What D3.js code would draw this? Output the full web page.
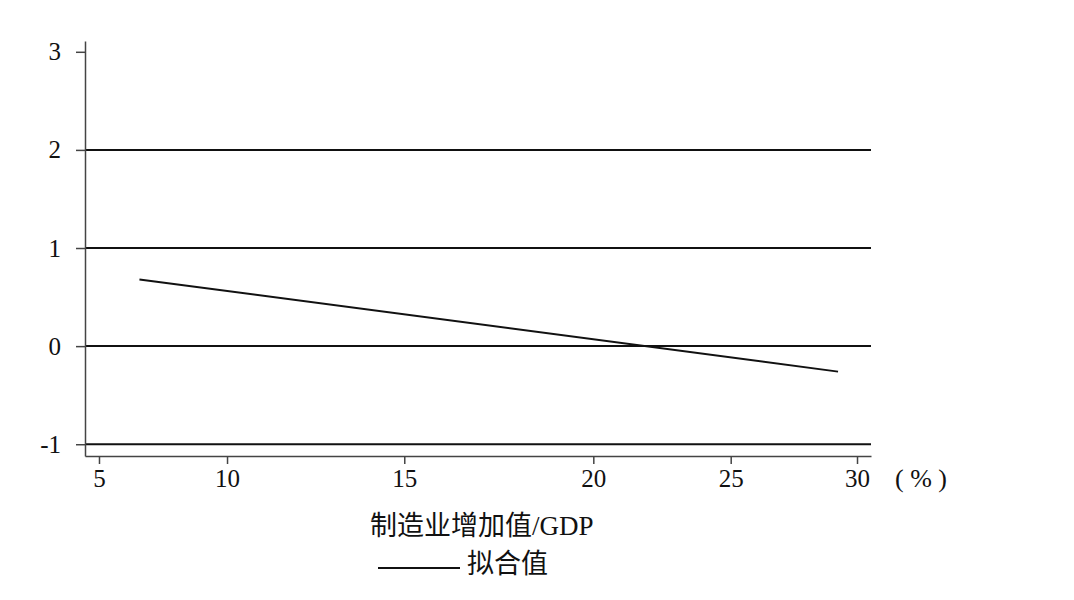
<!DOCTYPE html>
<html>
<head>
<meta charset="utf-8">
<script src="https://cdn.jsdelivr.net/npm/d3@7"></script>
<style>
    body { margin: 0; background: #fff; }
    .axis .tick text { font-family: "Liberation Serif", "Times New Roman", serif; font-size: 25px; fill: #111; }
    .axis path, .axis line { stroke: #444; stroke-width: 1.5; }
    .grid-line { stroke: #111; stroke-width: 2; }
    .fit-line { fill: none; stroke: #111; stroke-width: 2; }
    .legend-text { font-family: "Liberation Serif", "Noto Sans CJK SC", serif; font-size: 27px; fill: #111; }
    .unit-text { font-family: "Liberation Serif", "Times New Roman", serif; font-size: 26px; fill: #111; }
</style>
</head>
<body>
<div id="chart"></div>
<script>
// Tick values on both axes
const xTicks = [5, 10, 15, 20, 25, 30];
const yTicks = [-1, 0, 1, 2, 3];
// Horizontal reference lines
const gridValues = [-1, 0, 1, 2];
// Fitted line: manufacturing value added / GDP (%) vs fitted value
const fitX = [6.58, 29.25];
const fitY = [0.68, -0.26];
// Texts
const xUnit = '(\u00a0%\u00a0)';
const xTitle = '制造业增加值/GDP';
const legendLabel = '拟合值';

class FitChart {
    constructor(_config) {
        this.config = {
            parentElement: _config.parentElement,
            containerWidth: 1074,
            containerHeight: 600,
            margin: {top: 41, right: 203, bottom: 144, left: 85}
        }
        this.data = fitX.map((x, i) => ({x: x, y: fitY[i]}));
        this.initVis();
    }

    initVis() {
        let vis = this;

        vis.width = vis.config.containerWidth - vis.config.margin.left - vis.config.margin.right;
        vis.height = vis.config.containerHeight - vis.config.margin.top - vis.config.margin.bottom;

        vis.svg = d3.select(vis.config.parentElement).append('svg')
            .attr('width', vis.config.containerWidth)
            .attr('height', vis.config.containerHeight);

        vis.chart = vis.svg.append('g')
            .attr('transform', `translate(${vis.config.margin.left},${vis.config.margin.top})`);

        // The printed x axis is not evenly spaced, so use a piecewise scale
        vis.xScale = d3.scaleLinear()
            .domain([4.45, 5, 10, 15, 20, 25, 30, 30.56])
            .range([0, 0.0178, 0.1807, 0.4062, 0.6467, 0.8215, 0.9822, 1].map(f => f * vis.width));

        vis.yScale = d3.scaleLinear()
            .domain([-1.12, 3.11])
            .range([vis.height, 0]);

        vis.xAxis = d3.axisBottom(vis.xScale)
            .tickValues(xTicks)
            .tickSize(8)
            .tickSizeOuter(0)
            .tickPadding(5);

        // plain hyphen for negatives, as printed
        vis.yAxis = d3.axisLeft(vis.yScale)
            .tickValues(yTicks)
            .tickSize(9)
            .tickSizeOuter(0)
            .tickPadding(15)
            .tickFormat(d => String(d));

        vis.renderVis();
    }

    renderVis() {
        let vis = this;

        // Horizontal lines
        vis.chart.selectAll('.grid-line')
            .data(gridValues)
            .join('line')
            .attr('class', 'grid-line')
            .attr('x1', 0)
            .attr('x2', vis.width)
            .attr('y1', d => vis.yScale(d))
            .attr('y2', d => vis.yScale(d));

        vis.chart.append('g')
            .attr('class', 'axis x-axis')
            .attr('transform', `translate(0,${vis.height})`)
            .call(vis.xAxis);

        vis.chart.append('g')
            .attr('class', 'axis y-axis')
            .call(vis.yAxis)
            .call(g => g.selectAll('.tick text').attr('dy', '0.32em'));

        // Fitted line
        const line = d3.line()
            .x(d => vis.xScale(d.x))
            .y(d => vis.yScale(d.y));

        vis.chart.append('path')
            .datum(vis.data)
            .attr('class', 'fit-line')
            .attr('d', line);

        // Unit next to the last x tick
        vis.chart.append('text')
            .attr('class', 'unit-text')
            .attr('x', vis.xScale(30) + 38)
            .attr('y', vis.height + 31)
            .text(xUnit);

        // Title + legend below the chart
        vis.svg.append('text')
            .attr('class', 'legend-text')
            .attr('x', 370)
            .attr('y', 535)
            .text(xTitle);

        vis.svg.append('line')
            .attr('x1', 378)
            .attr('x2', 460)
            .attr('y1', 568)
            .attr('y2', 568)
            .attr('stroke', '#111')
            .attr('stroke-width', 2);

        vis.svg.append('text')
            .attr('class', 'legend-text')
            .attr('x', 467)
            .attr('y', 573)
            .text(legendLabel);
    }
}

new FitChart({parentElement: '#chart'});
</script>
</body>
</html>
